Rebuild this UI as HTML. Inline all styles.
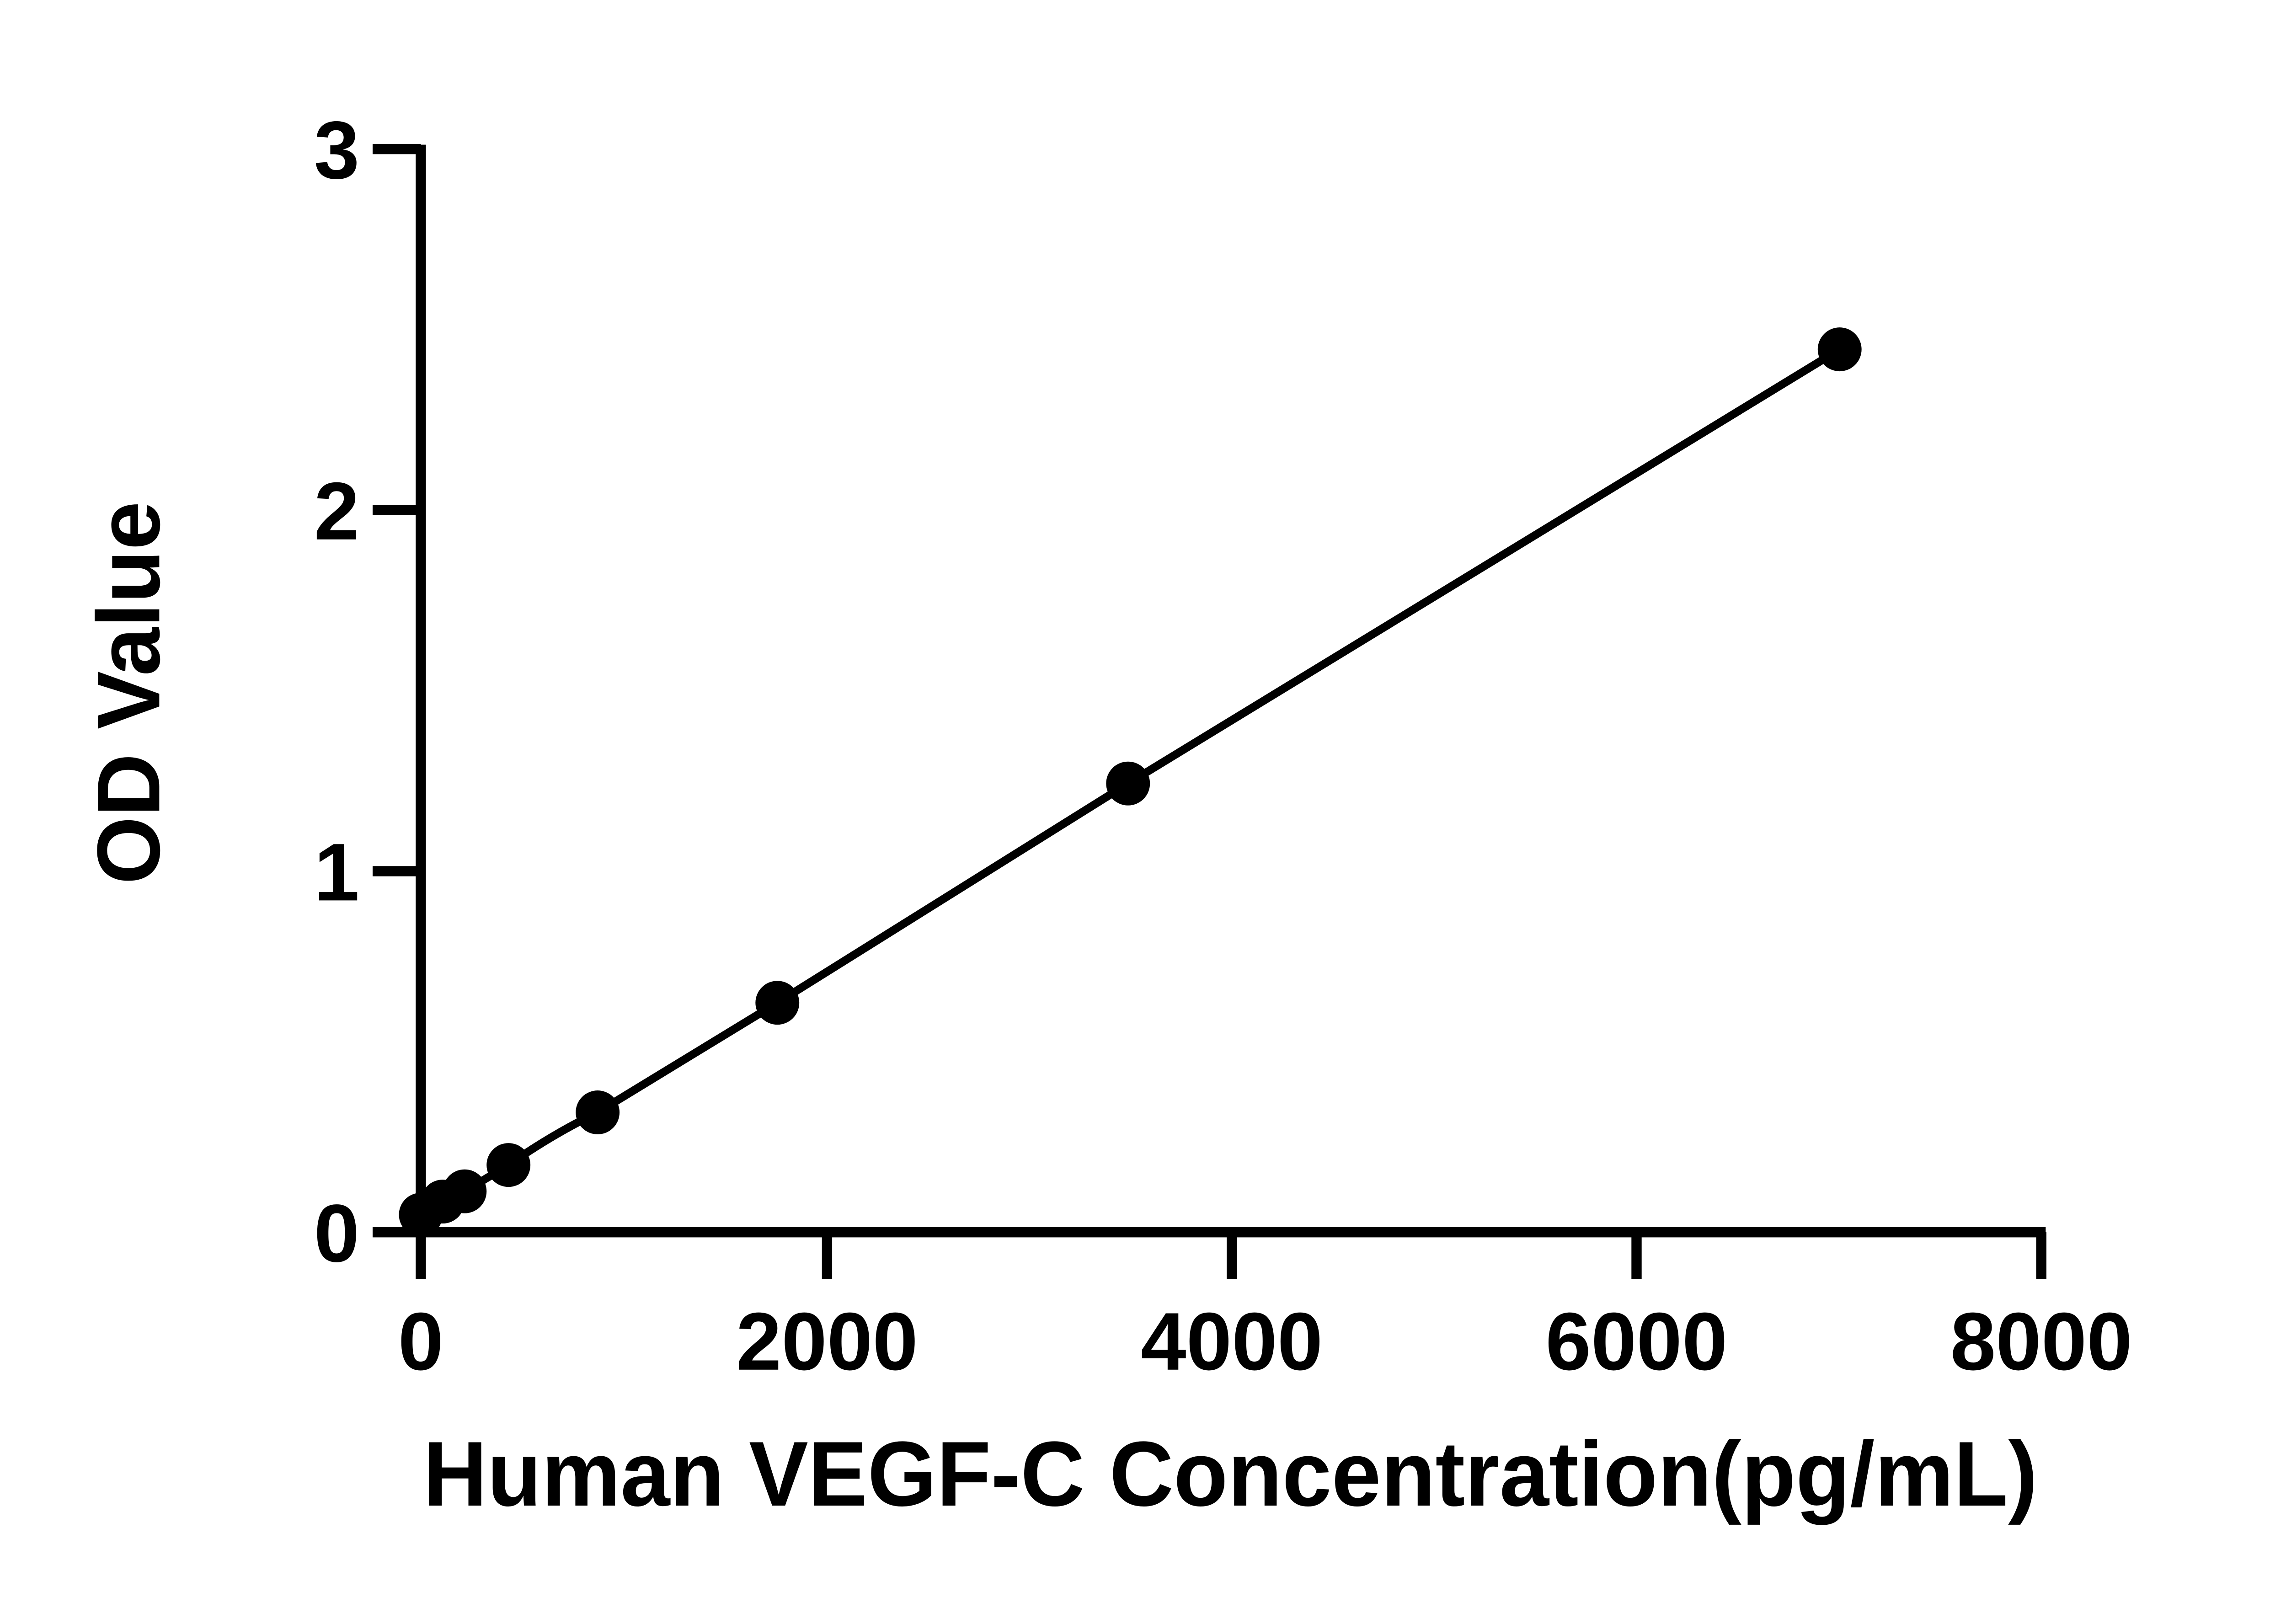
<!DOCTYPE html>
<html><head><meta charset="utf-8"><style>
html,body{margin:0;padding:0;background:#fff;}
svg{display:block;}
text{font-family:"Liberation Sans",Arial,sans-serif;font-weight:bold;fill:#000;}
</style></head><body>
<svg width="5088" height="3552" viewBox="0 0 1592 1111" preserveAspectRatio="none" xmlns="http://www.w3.org/2000/svg">
<rect width="1592" height="1111" fill="#fff"/>
<g stroke="#000" stroke-width="7" fill="none" stroke-linecap="butt">
<line x1="288" y1="99" x2="288" y2="875"/>
<line x1="255" y1="843" x2="1400" y2="843"/>
<line x1="255" y1="102" x2="288" y2="102"/>
<line x1="255" y1="349" x2="288" y2="349"/>
<line x1="255" y1="596" x2="288" y2="596"/>
<line x1="566" y1="843" x2="566" y2="875"/>
<line x1="843" y1="843" x2="843" y2="875"/>
<line x1="1120" y1="843" x2="1120" y2="875"/>
<line x1="1397" y1="843" x2="1397" y2="875"/>
</g>
<g font-size="56" text-anchor="end">
<text x="246" y="122">3</text>
<text x="246" y="369">2</text>
<text x="246" y="616">1</text>
<text x="246" y="863">0</text>
</g>
<g font-size="56" text-anchor="middle">
<text x="288" y="937">0</text>
<text x="566" y="937">2000</text>
<text x="843" y="937">4000</text>
<text x="1120" y="937">6000</text>
<text x="1397" y="937">8000</text>
</g>
<text x="842" y="1030" font-size="63" text-anchor="middle" textLength="1105" lengthAdjust="spacingAndGlyphs">Human VEGF-C Concentration(pg/mL)</text>
<text transform="translate(109,474) rotate(-90)" font-size="61" text-anchor="middle" textLength="262" lengthAdjust="spacingAndGlyphs">OD Value</text>
<path d="M288,831 L303,822 L318,815 L348,797 Q378,776 409,761 L532,686 L772,536 L1259,239" stroke="#000" stroke-width="5.5" fill="none" stroke-linejoin="round"/>
<g fill="#000">
<circle cx="288" cy="831" r="15"/>
<circle cx="303" cy="822" r="15"/>
<circle cx="318" cy="815" r="15"/>
<circle cx="348" cy="797" r="15"/>
<circle cx="409" cy="761" r="15"/>
<circle cx="532" cy="686" r="15"/>
<circle cx="772" cy="536" r="15"/>
<circle cx="1259" cy="239" r="15"/>
</g>
</svg>
</body></html>
